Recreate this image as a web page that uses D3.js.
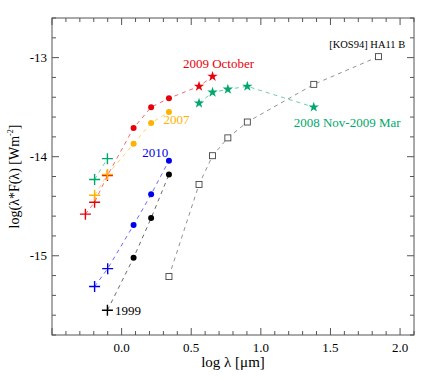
<!DOCTYPE html>
<html lang="en">
<head>
<meta charset="utf-8">
<title>SED</title>
<style>
body { margin: 0; background: #fff; }
text { font-family: "Liberation Serif", "Times New Roman", serif; }
</style>
<script src="https://cdn.jsdelivr.net/npm/d3@7"></script>
</head>
<body>
<div id="chart"></div>
<script>

// log wavelengths: V R I / J H K / IRAC / MIPS
var oct09X = [-0.26, -0.194, -0.102, 0.086, 0.212, 0.340, 0.556, 0.653];
var oct09Y = [-14.58, -14.46, -14.19, -13.71, -13.50, -13.41, -13.29, -13.19];
var oct09M = ["plus", "plus", "plus", "dot", "dot", "dot", "star", "star"];

var y2007X = [-0.194, -0.102, 0.086, 0.212, 0.340];
var y2007Y = [-14.39, -14.18, -13.87, -13.66, -13.55];
var y2007M = ["plus", "plus", "dot", "dot", "dot"];

var nov08OptX = [-0.194, -0.102];
var nov08OptY = [-14.23, -14.02];
var nov08IrX = [0.556, 0.653, 0.763, 0.903, 1.380];
var nov08IrY = [-13.46, -13.35, -13.32, -13.29, -13.50];

var y2010X = [-0.194, -0.100, 0.086, 0.212, 0.340];
var y2010Y = [-15.31, -15.13, -14.69, -14.38, -14.04];
var y2010M = ["plus", "plus", "dot", "dot", "dot"];

var y1999X = [-0.102, 0.086, 0.212, 0.340];
var y1999Y = [-15.55, -15.02, -14.62, -14.18];
var y1999M = ["plus", "dot", "dot", "dot"];

var kosX = [0.340, 0.556, 0.653, 0.763, 0.903, 1.380, 1.845];
var kosY = [-15.21, -14.28, -13.99, -13.81, -13.65, -13.27, -12.99];

var xTicks = [0.0, 0.5, 1.0, 1.5, 2.0];
var yTicks = [-13, -14, -15];

var red = "#e8000b", orange = "#ffb300", green = "#00a86b", blue = "#0000ee";

var width = 436, height = 381,
    margin = {top: 18, right: 22, bottom: 46, left: 52};

var x = d3.scaleLinear().domain([-0.5, 2.1]).range([margin.left, width - margin.right]);
var y = d3.scaleLinear().domain([-15.8, -12.6]).range([height - margin.bottom, margin.top]);

var svg = d3.select("#chart").append("svg")
    .attr("width", width)
    .attr("height", height);

function pts(xs, ys, ms, def) {
  return xs.map(function(d, i) { return {x: d, y: ys[i], m: ms ? ms[i] : def}; });
}

var series = [
  {color: red, data: pts(oct09X, oct09Y, oct09M)},
  {color: orange, data: pts(y2007X, y2007Y, y2007M)},
  {color: green, data: pts(nov08OptX, nov08OptY, null, "plus")},
  {color: green, data: pts(nov08IrX, nov08IrY, null, "star")},
  {color: blue, data: pts(y2010X, y2010Y, y2010M)},
  {color: "#000", data: pts(y1999X, y1999Y, y1999M)},
  {color: "#444", data: pts(kosX, kosY, null, "square")}
];

// axes: ticks on all four sides
var x0 = margin.left, x1 = width - margin.right,
    y0 = height - margin.bottom, y1 = margin.top;

var axes = svg.append("g").attr("stroke", "#555").attr("stroke-width", 1);
axes.append("rect")
    .attr("x", x0).attr("y", y1)
    .attr("width", x1 - x0).attr("height", y0 - y1)
    .attr("fill", "none");

var xMinor = d3.range(-5, 22).map(function(d) { return d / 10; });
xMinor.forEach(function(v) {
  var major = Math.abs(v * 2 - Math.round(v * 2)) < 1e-6;
  var len = major ? 7 : 4;
  axes.append("line").attr("x1", x(v)).attr("x2", x(v)).attr("y1", y0).attr("y2", y0 - len);
  axes.append("line").attr("x1", x(v)).attr("x2", x(v)).attr("y1", y1).attr("y2", y1 + len);
});
var yMinor = d3.range(-79, -62).map(function(d) { return d / 5; });
yMinor.forEach(function(v) {
  var major = Math.abs(v - Math.round(v)) < 1e-6;
  var len = major ? 7 : 4;
  axes.append("line").attr("y1", y(v)).attr("y2", y(v)).attr("x1", x0).attr("x2", x0 + len);
  axes.append("line").attr("y1", y(v)).attr("y2", y(v)).attr("x1", x1).attr("x2", x1 - len);
});

svg.append("g").selectAll("text")
  .data(xTicks)
  .enter().append("text")
    .attr("x", function(d) { return x(d); })
    .attr("y", y0 + 17)
    .attr("text-anchor", "middle")
    .attr("font-size", 13)
    .text(function(d) { return d.toFixed(1); });

svg.append("g").selectAll("text")
  .data(yTicks)
  .enter().append("text")
    .attr("x", x0 - 5)
    .attr("y", function(d) { return y(d) + 4.5; })
    .attr("text-anchor", "end")
    .attr("font-size", 13)
    .text(function(d) { return d; });

svg.append("text")
    .attr("x", (x0 + x1) / 2)
    .attr("y", y0 + 32)
    .attr("text-anchor", "middle")
    .attr("font-size", 15)
    .text("log λ [μm]");

var yl = svg.append("text")
    .attr("transform", "translate(19," + ((y0 + y1) / 2) + ") rotate(-90)")
    .attr("text-anchor", "middle")
    .attr("font-size", 14);
yl.append("tspan").text("log(λ*F(λ) [Wm");
yl.append("tspan").attr("font-size", 8).attr("dy", -6).text("-2");
yl.append("tspan").attr("dy", 6).text("]");

// dashed lines
var line = d3.line()
    .x(function(d) { return x(d.x); })
    .y(function(d) { return y(d.y); });

svg.append("g").selectAll("path")
  .data(series)
  .enter().append("path")
    .attr("d", function(d) { return line(d.data); })
    .attr("fill", "none")
    .attr("stroke", function(d) { return d.color; })
    .attr("stroke-opacity", 0.65)
    .attr("stroke-width", 0.9)
    .attr("stroke-dasharray", "4,4");

// markers
var star = d3.symbol().type(d3.symbolStar).size(34);
series.forEach(function(s) {
  var g = svg.append("g");
  s.data.forEach(function(p) {
    var px = x(p.x), py = y(p.y);
    if (p.m === "dot") {
      g.append("circle").attr("cx", px).attr("cy", py).attr("r", 3).attr("fill", s.color);
    } else if (p.m === "plus") {
      g.append("path")
          .attr("d", "M" + (px - 5.5) + "," + py + "h11M" + px + "," + (py - 5.5) + "v11")
          .attr("stroke", s.color).attr("stroke-width", 1.4);
    } else if (p.m === "star") {
      g.append("path").attr("d", star()).attr("transform", "translate(" + px + "," + py + ")")
          .attr("fill", s.color);
    } else {
      g.append("rect").attr("x", px - 3).attr("y", py - 3).attr("width", 6).attr("height", 6)
          .attr("fill", "#fff").attr("stroke", s.color).attr("stroke-width", 0.9);
    }
  });
});

// labels
var labels = [
  {t: "2009 October", x: 0.696, y: -13.10, c: red, a: "middle", s: 13},
  {t: "2007", x: 0.30, y: -13.67, c: orange, a: "start", s: 13},
  {t: "2010", x: 0.149, y: -14.00, c: blue, a: "start", s: 13},
  {t: "1999", x: -0.047, y: -15.60, c: "#000", a: "start", s: 13},
  {t: "2008 Nov-2009 Mar", x: 1.62, y: -13.70, c: green, a: "middle", s: 13},
  {t: "[KOS94] HA11 B", x: 1.764, y: -12.90, c: "#000", a: "middle", s: 10.5}
];
svg.append("g").selectAll("text")
  .data(labels)
  .enter().append("text")
    .attr("x", function(d) { return x(d.x); })
    .attr("y", function(d) { return y(d.y); })
    .attr("text-anchor", function(d) { return d.a; })
    .attr("font-size", function(d) { return d.s; })
    .attr("fill", function(d) { return d.c; })
    .text(function(d) { return d.t; });

</script>
</body>
</html>
